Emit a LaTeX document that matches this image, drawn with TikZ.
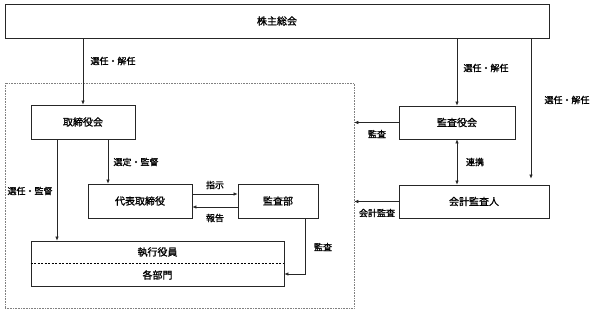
\documentclass[tikz,border=0pt]{standalone}
\usepackage{fontspec}
\usepackage{tikz}
\usetikzlibrary{arrows.meta}
\setmainfont{Noto Sans CJK JP}[FakeBold=1.2]
\XeTeXlinebreaklocale "ja"

\begin{document}
\begin{tikzpicture}[x=1pt, y=-1pt,
    box/.style={draw=black!85, line width=0.8pt, fill=white, inner sep=0pt,
      font=\fontsize{10}{12}\selectfont},
    arr/.style={-{Latex[length=4pt,width=3.5pt]}, line width=0.6pt, draw=black!85},
    lbl/.style={font=\fontsize{9}{11}\selectfont, inner sep=0pt}]
  \useasboundingbox (0,0) rectangle (600,314);
  % company frame
  \node[draw=gray, densely dotted, line width=0.6pt, minimum width=349pt,
    minimum height=225pt, inner sep=0pt] (kaisha) at (179.5,195.5) {};
  \node[box, minimum width=544pt, minimum height=34pt] (soukai) at (277,21) {株主総会};
  \node[box, minimum width=104pt, minimum height=34pt] (torishimari) at (83,122) {取締役会};
  \node[box, minimum width=104pt, minimum height=34pt] (daihyo) at (140,201) {代表取締役};
  \node[box, minimum width=80pt, minimum height=34pt] (kansabu) at (278,201) {監査部};
  \node[box, minimum width=253pt, minimum height=45pt] (shikko) at (157.5,263.5) {};
  \draw[dashed, dash pattern=on 2pt off 1.5pt, line width=0.5pt] (shikko.west) -- (shikko.east);
  \node[lbl, font=\fontsize{10}{12}\selectfont] (yakuin) at (157.5,252) {執行役員};
  \node[lbl, font=\fontsize{10}{12}\selectfont] (bumon) at (157.5,275) {各部門};
  \node[box, minimum width=116pt, minimum height=33pt] (kansayaku) at (457,122.5) {監査役会};
  \node[box, minimum width=150pt, minimum height=33pt] (kaikei) at (474,201.5) {会計監査人};

  % connectors
  \draw[arr] (torishimari.north |- soukai.south) -- (torishimari.north);
  \draw[arr] (kansayaku.north |- soukai.south) -- (kansayaku.north);
  \draw[arr, shorten >=6pt] ([xshift=57pt]kaikei.north |- soukai.south) -- ([xshift=57pt]kaikei.north);
  \draw[arr] ([xshift=25pt]torishimari.south) -- ([xshift=25pt]torishimari.south |- daihyo.north);
  \draw[arr] ([xshift=-26pt]torishimari.south) -- ([xshift=-26pt]torishimari.south |- shikko.north);
  \draw[arr] ([yshift=7pt]daihyo.east) -- ([yshift=7pt]daihyo.east -| kansabu.west);
  \draw[arr] ([yshift=-6pt]kansabu.west) -- ([yshift=-6pt]kansabu.west -| daihyo.east);
  \draw[arr] ([xshift=27pt]kansabu.south) |- ([yshift=-10.5pt]shikko.east);
  \draw[{Latex[length=4pt,width=3.5pt]}-{Latex[length=4pt,width=3.5pt]}, line width=0.6pt, draw=black!85]
    (kansayaku.south) -- (kansayaku.south |- kaikei.north);
  \draw[arr] (kansayaku.west) -- (kansayaku.west -| kaisha.east);
  \draw[arr] (kaikei.west) -- (kaikei.west -| kaisha.east);

  % labels
  \node[lbl] (l1) at (113,61) {選任・解任};
  \node[lbl] (l2) at (486,68) {選任・解任};
  \node[lbl] (l3) at (567,100) {選任・解任};
  \node[lbl] (l4) at (136,162) {選定・監督};
  \node[lbl] (l5) at (30,191) {選任・監督};
  \node[lbl] (l6) at (215,185) {指示};
  \node[lbl] (l7) at (215,218) {報告};
  \node[lbl] (l8) at (323,247) {監査};
  \node[lbl] (l9) at (377,134) {監査};
  \node[lbl] (l10) at (377,213) {会計監査};
  \node[lbl] (l11) at (475,162) {連携};
\end{tikzpicture}
\end{document}
